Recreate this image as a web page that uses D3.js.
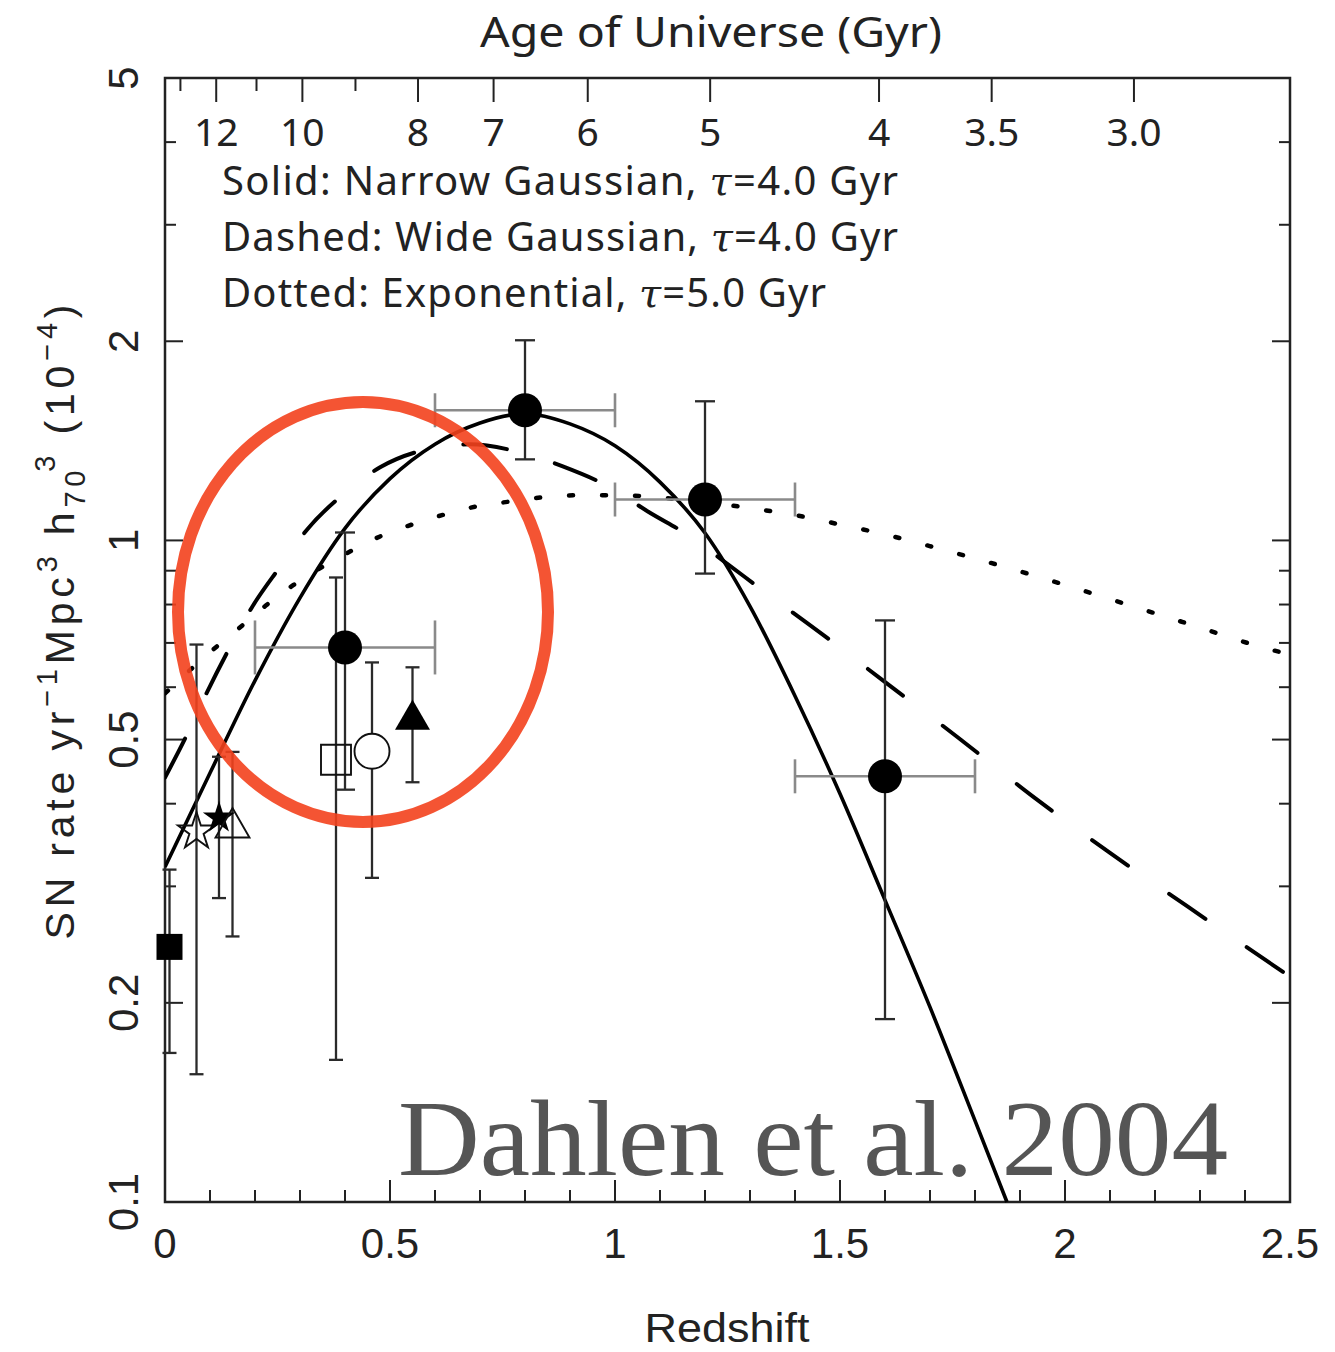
<!DOCTYPE html>
<html>
<head>
<meta charset="utf-8">
<script src="https://cdn.jsdelivr.net/npm/d3@7"></script>
<style>
  body { margin: 0; background: #fff; }
  svg { display: block; }
</style>
</head>
<body>
<svg id="chart" width="1335" height="1352"></svg>
<script>
// ---- Model curves: [redshift, SN Ia rate in 1e-4 yr^-1 Mpc^-3 h70^3] ----
const narrowGaussian = [
  [0, 0.321], [0.1, 0.445], [0.2, 0.614], [0.3, 0.819], [0.4, 1.043],
  [0.5, 1.240], [0.6, 1.398], [0.7, 1.505], [0.8, 1.554], [0.9, 1.500],
  [1.0, 1.390], [1.1, 1.225], [1.2, 1.026], [1.3, 0.795], [1.4, 0.582],
  [1.5, 0.414], [1.6, 0.286], [1.7, 0.197], [1.8, 0.1327], [1.871, 0.1]
];
const wideGaussian = [
  [0, 0.438], [0.049, 0.509], [0.093, 0.589], [0.144, 0.689], [0.193, 0.792],
  [0.256, 0.913], [0.316, 1.039], [0.396, 1.174], [0.478, 1.29], [0.582, 1.373],
  [0.678, 1.397], [0.789, 1.359], [0.884, 1.294], [0.989, 1.203], [1.073, 1.106],
  [1.171, 1.01], [1.251, 0.92], [1.34, 0.829], [1.467, 0.716], [1.593, 0.616],
  [1.76, 0.505], [1.929, 0.41], [2.1, 0.337], [2.273, 0.2795], [2.5, 0.219]
];
const exponentialModel = [
  [0, 0.587], [0.107, 0.684], [0.167, 0.739], [0.224, 0.797], [0.284, 0.855],
  [0.351, 0.913], [0.411, 0.962], [0.478, 1.014], [0.549, 1.057], [0.622, 1.095],
  [0.693, 1.126], [0.771, 1.146], [0.84, 1.162], [0.918, 1.17], [0.993, 1.17],
  [1.067, 1.166], [1.14, 1.154], [1.289, 1.122], [1.362, 1.103], [1.438, 1.08],
  [1.507, 1.054], [1.582, 1.028], [1.727, 0.969], [1.871, 0.91], [2.011, 0.852],
  [2.151, 0.795], [2.293, 0.741], [2.433, 0.691], [2.5, 0.672]
];

// ---- GOODS rates with redshift bins and errors ----
const goodsZ      = [0.4, 0.8, 1.2, 1.6];
const goodsRate   = [0.689, 1.573, 1.153, 0.440];
const goodsRateLo = [0.420, 1.326, 0.891, 0.189];
const goodsRateHi = [1.028, 2.007, 1.623, 0.757];
const goodsZLo    = [0.2, 0.6, 1.0, 1.4];
const goodsZHi    = [0.6, 1.0, 1.4, 1.8];

// ---- Rates from other surveys ----
const otherZ      = [0.01, 0.07, 0.12, 0.15, 0.38, 0.46, 0.55];
const otherRate   = [0.243, 0.363, 0.381, 0.368, 0.466, 0.480, 0.536];
const otherRateLo = [0.168, 0.156, 0.288, 0.252, 0.164, 0.309, 0.431];
const otherRateHi = [0.318, 0.696, 0.471, 0.479, 0.879, 0.654, 0.643];
const otherSymbol = ["squareFilled", "starOpen", "starFilled", "triangleOpen",
                     "squareOpen", "circleOpen", "triangleFilled"];

// ---- Axis ticks ----
const xMajor = [0, 0.5, 1, 1.5, 2, 2.5];
const xMajorLabels = ["0", "0.5", "1", "1.5", "2", "2.5"];
const xMinor = d3.range(0.1, 2.5, 0.1).filter(v => Math.abs(v * 2 - Math.round(v * 2)) > 1e-6);
const yMajor = [0.1, 0.2, 0.5, 1, 2, 5];
const yMajorLabels = ["0.1", "0.2", "0.5", "1", "2", "5"];
const yMinor = [0.3, 0.4, 0.6, 0.7, 0.8, 0.9, 3, 4];
const ageMajor = [12, 10, 8, 7, 6, 5, 4, 3.5, 3.0];
const ageMajorLabels = ["12", "10", "8", "7", "6", "5", "4", "3.5", "3.0"];
const ageMinor = [13, 11, 9];

const legendLines = [
  ["Solid: Narrow Gaussian, ", "\u03C4", "=4.0 Gyr"],
  ["Dashed: Wide Gaussian, ", "\u03C4", "=4.0 Gyr"],
  ["Dotted: Exponential, ", "\u03C4", "=5.0 Gyr"]
];

// ---- Styles ----
const symbolStyle = {
  squareFilled:   { type: d3.symbolSquare,   size: 676, fill: "#000", stroke: "none" },
  starOpen:       { type: d3.symbolStar,     size: 427, fill: "none", stroke: "#111" },
  starFilled:     { type: d3.symbolStar,     size: 324, fill: "#000", stroke: "none" },
  triangleOpen:   { type: d3.symbolTriangle, size: 499, fill: "none", stroke: "#111" },
  squareOpen:     { type: d3.symbolSquare,   size: 900, fill: "none", stroke: "#111" },
  circleOpen:     { type: d3.symbolCircle,   size: 962, fill: "#fff", stroke: "#111" },
  triangleFilled: { type: d3.symbolTriangle, size: 530, fill: "#000", stroke: "none" }
};
const binCapHalfHeight = [27, 17, 17, 17];

const svg = d3.select("#chart");
const plot = { left: 165, right: 1290, top: 78, bottom: 1202 };

const x = d3.scaleLinear().domain([0, 2.5]).range([plot.left, plot.right]);
const y = d3.scaleLog().domain([0.1, 5]).range([plot.bottom, plot.top]);

// Flat LCDM (H0=70, Om=0.3, OL=0.7): redshift at a given cosmic age in Gyr
const hubbleTime = 977.8 / 70;
const OL = 0.7, OM = 0.3;
const tScale = 2 * hubbleTime / (3 * Math.sqrt(OL));
function zOfAge(t) {
  const s = Math.sinh(t / tScale) / Math.sqrt(OL / OM);
  return Math.pow(s, -2 / 3) - 1;
}

const axisColor = "#222";
const sansFont = "'Liberation Sans', Arial, sans-serif";
const roundFont = "'Noto Sans', 'Open Sans', sans-serif";

// ---- Frame ----
svg.append("rect")
  .attr("x", plot.left).attr("y", plot.top)
  .attr("width", plot.right - plot.left).attr("height", plot.bottom - plot.top)
  .attr("fill", "none").attr("stroke", axisColor).attr("stroke-width", 2.5);

const ticks = svg.append("g").attr("stroke", axisColor).attr("stroke-width", 2);

// bottom redshift ticks
ticks.selectAll(".xmaj").data(xMajor).join("line")
  .attr("x1", d => x(d)).attr("x2", d => x(d))
  .attr("y1", plot.bottom).attr("y2", plot.bottom - 22);
ticks.selectAll(".xmin").data(xMinor).join("line")
  .attr("x1", d => x(d)).attr("x2", d => x(d))
  .attr("y1", plot.bottom).attr("y2", plot.bottom - 12);

// left and right rate ticks
[[plot.left, 1], [plot.right, -1]].forEach(([x0, dir]) => {
  ticks.append("g").selectAll("line").data(yMajor).join("line")
    .attr("x1", x0).attr("x2", x0 + dir * 18)
    .attr("y1", d => y(d)).attr("y2", d => y(d));
  ticks.append("g").selectAll("line").data(yMinor).join("line")
    .attr("x1", x0).attr("x2", x0 + dir * 11)
    .attr("y1", d => y(d)).attr("y2", d => y(d));
});

// top age ticks
ticks.append("g").selectAll("line").data(ageMajor).join("line")
  .attr("x1", d => x(zOfAge(d))).attr("x2", d => x(zOfAge(d)))
  .attr("y1", plot.top).attr("y2", plot.top + 24);
ticks.append("g").selectAll("line").data(ageMinor).join("line")
  .attr("x1", d => x(zOfAge(d))).attr("x2", d => x(zOfAge(d)))
  .attr("y1", plot.top).attr("y2", plot.top + 13);

// ---- Tick labels ----
svg.append("g").selectAll("text").data(xMajor).join("text")
  .attr("x", d => x(d)).attr("y", 1258)
  .attr("text-anchor", "middle")
  .attr("font-family", sansFont).attr("font-size", 42).attr("fill", "#222")
  .text((d, i) => xMajorLabels[i]);

svg.append("g").selectAll("text").data(yMajor).join("text")
  .attr("transform", d => `translate(138,${y(d)}) rotate(-90)`)
  .attr("text-anchor", "middle")
  .attr("font-family", sansFont).attr("font-size", 42).attr("fill", "#222")
  .text((d, i) => yMajorLabels[i]);

svg.append("g").selectAll("text").data(ageMajor).join("text")
  .attr("x", d => x(zOfAge(d))).attr("y", 146)
  .attr("text-anchor", "middle")
  .attr("font-family", roundFont).attr("font-size", 39).attr("fill", "#222")
  .text((d, i) => ageMajorLabels[i]);

// ---- Axis titles ----
svg.append("text")
  .attr("x", 711).attr("y", 47).attr("text-anchor", "middle")
  .attr("font-family", roundFont).attr("font-size", 42).attr("fill", "#222")
  .attr("textLength", 462).attr("lengthAdjust", "spacingAndGlyphs")
  .text("Age of Universe (Gyr)");

svg.append("text")
  .attr("x", 727).attr("y", 1342).attr("text-anchor", "middle")
  .attr("font-family", sansFont).attr("font-size", 41).attr("fill", "#222")
  .attr("textLength", 165).attr("lengthAdjust", "spacingAndGlyphs")
  .text("Redshift");

const yTitle = svg.append("text")
  .attr("transform", "translate(74,622) rotate(-90)")
  .attr("text-anchor", "middle")
  .attr("font-family", sansFont).attr("font-size", 41).attr("fill", "#222")
  .attr("textLength", 635).attr("lengthAdjust", "spacing");
const supSize = 29;
yTitle.append("tspan").text("SN rate yr");
yTitle.append("tspan").attr("dy", -17).attr("font-size", supSize).text("\u22121");
yTitle.append("tspan").attr("dy", 17).text("Mpc");
yTitle.append("tspan").attr("dy", -17).attr("font-size", supSize).text("3");
yTitle.append("tspan").attr("dy", 17).text(" h");
yTitle.append("tspan").attr("dy", 11).attr("font-size", supSize).text("70");
yTitle.append("tspan").attr("dy", -30).attr("dx", -6).attr("font-size", supSize).text("3");
yTitle.append("tspan").attr("dy", 19).text(" (10");
yTitle.append("tspan").attr("dy", -17).attr("font-size", supSize).text("\u22124");
yTitle.append("tspan").attr("dy", 17).text(")");

// ---- Legend text ----
const legendX = 222, legendY0 = 195, legendDy = 56;
const legendWidths = [676, 676, 604];
legendLines.forEach((parts, i) => {
  const t = svg.append("text")
    .attr("x", legendX).attr("y", legendY0 + i * legendDy)
    .attr("font-family", roundFont).attr("font-size", 40).attr("fill", "#222")
    .attr("textLength", legendWidths[i]).attr("lengthAdjust", "spacing")
    .attr("xml:space", "preserve");
  t.append("tspan").text(parts[0]);
  t.append("tspan").attr("font-style", "italic").attr("font-family", "'DejaVu Serif', serif").text(parts[1]);
  t.append("tspan").text(parts[2]);
});

// ---- Model curves ----
svg.append("clipPath").attr("id", "plotClip").append("rect")
  .attr("x", plot.left).attr("y", plot.top)
  .attr("width", plot.right - plot.left).attr("height", plot.bottom - plot.top + 2);

const line = d3.line()
  .x(d => x(d[0])).y(d => y(d[1]))
  .curve(d3.curveMonotoneX);

const curves = svg.append("g").attr("clip-path", "url(#plotClip)")
  .attr("fill", "none").attr("stroke", "#000");
curves.append("path").datum(narrowGaussian).attr("d", line)
  .attr("stroke-width", 3.6);
curves.append("path").datum(wideGaussian).attr("d", line)
  .attr("stroke-width", 4).attr("stroke-dasharray", "44,50").attr("stroke-linecap", "round");
curves.append("path").datum(exponentialModel).attr("d", line)
  .attr("stroke-width", 4.5).attr("stroke-dasharray", "4,29").attr("stroke-linecap", "round");

// ---- Error bars ----
const goods = goodsZ.map((z, i) => ({
  z, rate: goodsRate[i], lo: goodsRateLo[i], hi: goodsRateHi[i],
  zlo: goodsZLo[i], zhi: goodsZHi[i], cap: binCapHalfHeight[i]
}));
const others = otherZ.map((z, i) => ({
  z, rate: otherRate[i], lo: otherRateLo[i], hi: otherRateHi[i], sym: otherSymbol[i]
}));

// redshift bins (grey)
const binG = svg.append("g").attr("stroke", "#8a8a8a").attr("stroke-width", 2.6);
goods.forEach(d => {
  binG.append("line").attr("x1", x(d.zlo)).attr("x2", x(d.zhi))
    .attr("y1", y(d.rate)).attr("y2", y(d.rate));
  [d.zlo, d.zhi].forEach(zz => binG.append("line")
    .attr("x1", x(zz)).attr("x2", x(zz))
    .attr("y1", y(d.rate) - d.cap).attr("y2", y(d.rate) + d.cap));
});

// rate errors
const errG = svg.append("g").attr("stroke", "#2a2a2a").attr("stroke-width", 2.3);
function rateError(d, capHalf) {
  errG.append("line").attr("x1", x(d.z)).attr("x2", x(d.z))
    .attr("y1", y(d.lo)).attr("y2", y(d.hi));
  [d.lo, d.hi].forEach(v => errG.append("line")
    .attr("x1", x(d.z) - capHalf).attr("x2", x(d.z) + capHalf)
    .attr("y1", y(v)).attr("y2", y(v)));
}
others.forEach(d => rateError(d, 7));
goods.forEach(d => rateError(d, 10));

// ---- Markers ----
const symG = svg.append("g");
others.forEach(d => {
  const s = symbolStyle[d.sym];
  symG.append("path")
    .attr("d", d3.symbol().type(s.type).size(s.size)())
    .attr("transform", `translate(${x(d.z)},${y(d.rate)})`)
    .attr("fill", s.fill).attr("stroke", s.stroke).attr("stroke-width", 1.9);
});
symG.selectAll(".goods").data(goods).join("circle")
  .attr("cx", d => x(d.z)).attr("cy", d => y(d.rate)).attr("r", 17)
  .attr("fill", "#000");

// ---- Citation ----
svg.append("text")
  .attr("x", 398).attr("y", 1175)
  .attr("font-family", "'Liberation Serif', 'Times New Roman', serif")
  .attr("font-size", 109).attr("fill", "#555")
  .attr("textLength", 830).attr("lengthAdjust", "spacingAndGlyphs")
  .text("Dahlen et al. 2004");

// ---- Highlight ellipse ----
svg.append("ellipse")
  .attr("cx", 363).attr("cy", 612).attr("rx", 185).attr("ry", 210)
  .attr("fill", "none").attr("stroke", "#f3411d").attr("stroke-width", 12)
  .attr("stroke-opacity", 0.9);
</script>
</body>
</html>
